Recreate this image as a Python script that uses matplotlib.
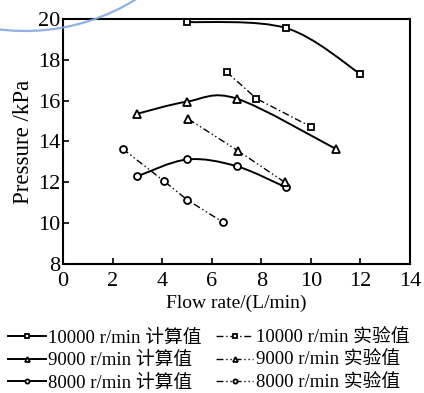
import numpy as np
import matplotlib.pyplot as plt
from matplotlib.path import Path
from matplotlib.patches import PathPatch, Arc
from matplotlib.lines import Line2D

plt.rcParams['font.family'] = ['Liberation Serif', 'Noto Sans CJK SC']

# calculated values (solid smooth curves)
calc_10000_x = [5, 9, 12]
calc_10000_y = [19.85, 19.55, 17.3]
calc_9000_x = [3, 5, 7, 11]
calc_9000_y = [15.36, 15.95, 16.1, 13.64]
calc_8000_x = [3, 5, 7, 9]
calc_8000_y = [12.3, 13.12, 12.79, 11.75]

# experimental values (dash-dot lines)
exp_10000_x = [6.6, 7.8, 10]
exp_10000_y = [17.4, 16.1, 14.72]
exp_9000_x = [5.05, 7.05, 8.95]
exp_9000_y = [15.1, 13.55, 12.0]
exp_8000_x = [2.4, 4.05, 5.0, 6.45]
exp_8000_y = [13.64, 12.08, 11.15, 10.05]

labels_calc = ['10000 r/min 计算值', '9000 r/min 计算值', '8000 r/min 计算值']
labels_exp = ['10000 r/min 实验值', '9000 r/min 实验值', '8000 r/min 实验值']


def smooth_path(xs, ys):
    # Catmull-Rom through the points, drawn as cubic bezier segments
    p = np.column_stack([xs, ys]).astype(float)
    n = len(p)
    verts = [p[0]]
    codes = [Path.MOVETO]
    for i in range(n - 1):
        p0 = p[i - 1] if i > 0 else p[i]
        p3 = p[i + 2] if i + 2 < n else p[i + 1]
        c1 = p[i] + (p[i + 1] - p0) / 6
        c2 = p[i + 1] - (p3 - p[i]) / 6
        verts += [c1, c2, p[i + 1]]
        codes += [Path.CURVE4] * 3
    return Path(verts, codes)


fig = plt.figure(figsize=(4.24, 3.93), dpi=100)
ax = fig.add_axes([0.149, 0.328, 0.818, 0.624])

dd = (0, (5, 2, 1, 2, 1, 2))
dash1 = (0, (5, 2, 1, 2))
mk = dict(markerfacecolor='white', markeredgecolor='black', markeredgewidth=1.3, color='black')

for xs, ys, m, ms in [(calc_10000_x, calc_10000_y, 's', 5),
                      (calc_9000_x, calc_9000_y, '^', 6),
                      (calc_8000_x, calc_8000_y, 'o', 5)]:
    ax.add_patch(PathPatch(smooth_path(xs, ys), fill=False, lw=1.4, ec='black'))
    ax.plot(xs, ys, ls='none', marker=m, markersize=ms, **mk)

ax.plot(exp_10000_x, exp_10000_y, ls=dash1, lw=1.0, marker='s', markersize=5, **mk)
ax.plot(exp_9000_x, exp_9000_y, ls=dd, lw=1.0, marker='^', markersize=6, **mk)
ax.plot(exp_8000_x, exp_8000_y, ls=dd, lw=1.0, marker='o', markersize=5, **mk)

ax.set_xlim(0, 14)
ax.set_ylim(8, 20)
ax.set_xticks(range(0, 15, 2))
ax.set_yticks(range(8, 21, 2))
ax.tick_params(direction='in', length=4, width=1.2, labelsize=16, pad=2)
ax.tick_params(axis='x', pad=6)
for s in ax.spines.values():
    s.set_linewidth(1.5)
ax.set_xlabel('Flow rate/(L/min)', fontsize=14, labelpad=2)
ax.set_ylabel('Pressure /kPa', fontsize=16.5, labelpad=3)

handles = [
    Line2D([], [], lw=1.4, marker='s', markersize=3, **mk),
    Line2D([], [], lw=1.4, marker='^', markersize=3.5, **mk),
    Line2D([], [], lw=1.4, marker='o', markersize=3, **mk),
    Line2D([], [], ls=dash1, lw=1.0, marker='s', markersize=3, **mk),
    Line2D([], [], ls=dd, lw=1.0, marker='^', markersize=3.5, **mk),
    Line2D([], [], ls=dd, lw=1.0, marker='o', markersize=3, **mk),
]
fig.legend(handles, labels_calc + labels_exp, ncol=2, loc='lower left',
           bbox_to_anchor=(-0.012, -0.03), frameon=False, fontsize=13.5,
           handlelength=2.0, handletextpad=0.15, columnspacing=0.75,
           labelspacing=0.28, borderpad=0.2)

# light blue stamp arc in the upper-left corner
fig.patches.append(Arc((25, 572), 420, 420, theta1=250, theta2=310,
                       transform=None, color='#86a9dd', lw=1.6, alpha=0.9))

fig.savefig('out.png', dpi=100)
